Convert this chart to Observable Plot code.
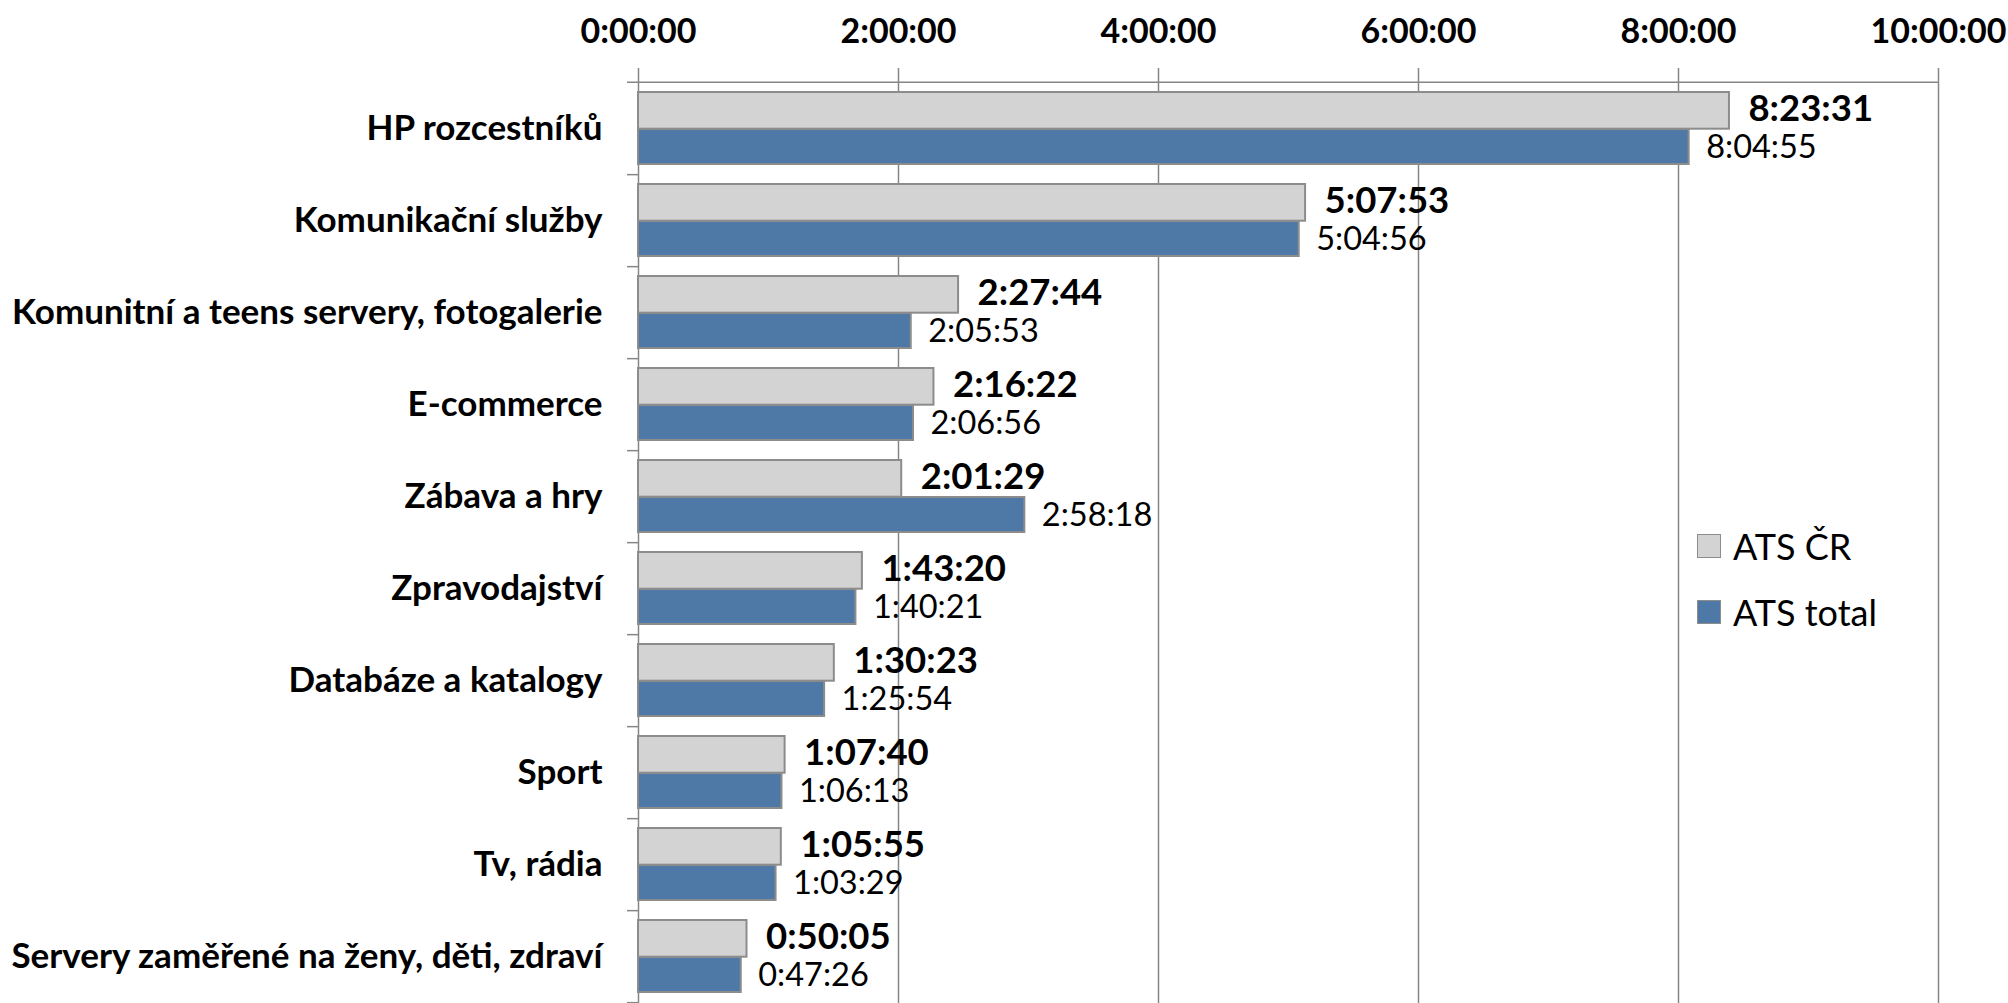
<!DOCTYPE html>
<html><head><meta charset="utf-8">
<script src="https://cdn.jsdelivr.net/npm/d3@7"></script>
<script src="https://cdn.jsdelivr.net/npm/@observablehq/plot@0.6"></script>
<style>
body{margin:0;background:#fff;}
#wrap{position:relative;width:2008px;height:1003px;font-family:Lato,sans-serif;overflow:hidden}
#wrap svg{position:absolute;left:0;top:0}
.item{position:absolute;left:1697px;display:flex;align-items:center;font-size:36px;color:#000;height:40px}
.sw{width:22px;height:22px;border:1.5px solid #8c8c8c;margin-right:12px;box-sizing:content-box}
</style></head><body><div id="wrap"></div>
<script>
const categories = ["HP rozcestníků","Komunikační služby","Komunitní a teens servery, fotogalerie","E-commerce","Zábava a hry","Zpravodajství","Databáze a katalogy","Sport","Tv, rádia","Servery zaměřené na ženy, děti, zdraví"];
const atsCR = ["8:23:31","5:07:53","2:27:44","2:16:22","2:01:29","1:43:20","1:30:23","1:07:40","1:05:55","0:50:05"];
const atsTotal = ["8:04:55","5:04:56","2:05:53","2:06:56","2:58:18","1:40:21","1:25:54","1:06:13","1:03:29","0:47:26"];
const xTicks = ["0:00:00","2:00:00","4:00:00","6:00:00","8:00:00","10:00:00"];
const seriesNames = ["ATS ČR","ATS total"];
const seriesColors = ["#d3d3d3","#4e79a7"];

const toSec = s => { const [h,m,ss] = s.split(":").map(Number); return h*3600 + m*60 + ss; };
const rows = categories.map((c,i) => ({cat:c, cr:toSec(atsCR[i]), crL:atsCR[i], tot:toSec(atsTotal[i]), totL:atsTotal[i]}));
const tickVals = xTicks.map(toSec);
const tickLab = new Map(xTicks.map(t => [toSec(t), t]));

const W = 2008, H = 1003, mT = 80, mB = 0, mL = 638, mR = 70;
const bw = (H - mT - mB) / categories.length;
const grid = "#868686";

const chart = Plot.plot({
  width: W, height: H, marginTop: mT, marginBottom: mB, marginLeft: mL, marginRight: mR,
  style: {fontFamily: "Lato, sans-serif", background: "white", color: "#000"},
  x: {domain: [0, tickVals[tickVals.length-1]], axis: null},
  y: {domain: categories, padding: 0, axis: null},
  marks: [
    Plot.ruleX(tickVals, {x: d => d, stroke: grid, strokeWidth: 1.5, strokeOpacity: 1, insetTop: -12}),
    Plot.ruleY([categories[0]], {y: d => d, x1: 0, x2: tickVals[tickVals.length-1], dy: -bw/2, insetLeft: -11, stroke: grid, strokeWidth: 1.5}),
    Plot.ruleY(categories, {y: d => d, x1: 0, x2: 0, dy: bw/2, insetLeft: -11, stroke: grid, strokeWidth: 1.5}),
    Plot.barX(rows, {y: "cat", x: "cr", fill: seriesColors[0], stroke: "#8c8c8c", strokeWidth: 2, insetTop: 10, insetBottom: bw - 47}),
    Plot.barX(rows, {y: "cat", x: "tot", fill: seriesColors[1], stroke: "#8c8c8c", strokeWidth: 2, insetTop: 47, insetBottom: bw - 82.3}),
    Plot.text(rows, {y: "cat", x: "cr", text: "crL", dx: 19, dy: -bw/2 + 27, textAnchor: "start", fontSize: 36.5, fontWeight: "bold", fill: "#000"}),
    Plot.text(rows, {y: "cat", x: "tot", text: "totL", dx: 17, dy: -bw/2 + 65, textAnchor: "start", fontSize: 32.5, fill: "#000"}),
    Plot.text(rows, {y: "cat", text: "cat", frameAnchor: "left", dx: -36, textAnchor: "end", fontSize: 35, fontWeight: "bold", fill: "#000"}),
    Plot.text(tickVals, {x: d => d, text: d => tickLab.get(d), frameAnchor: "top", dy: -62, fontSize: 34, fontWeight: "bold", fill: "#000"})
  ]
});
const wrap = document.getElementById("wrap");
wrap.appendChild(chart);
const legendTops = [526, 592];
seriesNames.forEach((n, i) => {
  const it = document.createElement("div");
  it.className = "item";
  it.style.top = legendTops[i] + "px";
  const sw = document.createElement("div");
  sw.className = "sw";
  sw.style.background = seriesColors[i];
  const t = document.createElement("span");
  t.textContent = n;
  it.appendChild(sw); it.appendChild(t);
  wrap.appendChild(it);
});
</script></body></html>
